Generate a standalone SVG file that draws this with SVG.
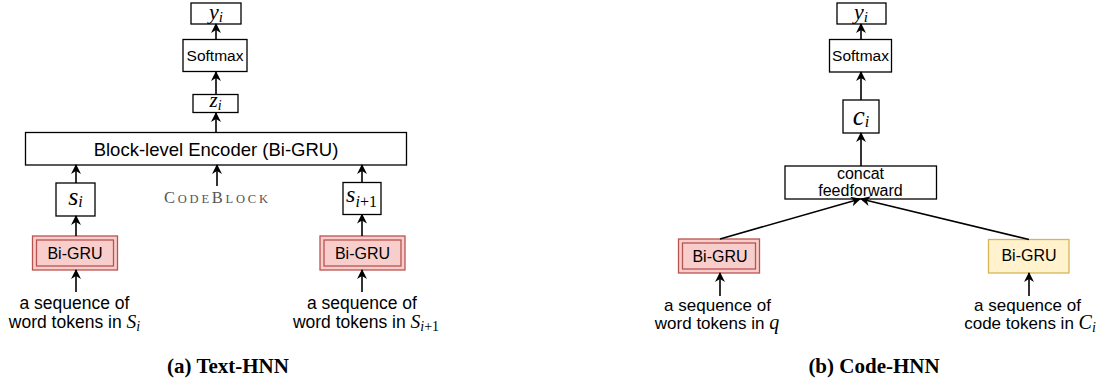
<svg xmlns="http://www.w3.org/2000/svg" width="1102" height="388" viewBox="0 0 1102 388">
<defs>
<style>
.box{fill:#fff;stroke:#000;stroke-width:1.3}
.red{fill:#f8cecc;stroke:#b85450;stroke-width:1.3}
.redin{fill:none;stroke:#b85450;stroke-width:1.3}
.yel{fill:#fff2cc;stroke:#d6b656;stroke-width:1.3}
.t{font-family:"Liberation Sans",Arial,sans-serif;fill:#000;text-anchor:middle}
.m{font-family:"Liberation Serif","Times New Roman",serif;font-style:italic;fill:#000;text-anchor:middle}
.up{font-style:normal}
.cap{font-family:"Liberation Serif","Times New Roman",serif;font-weight:bold;font-size:21px;fill:#000;text-anchor:middle}
.sc{font-family:"Liberation Serif","Times New Roman",serif;fill:#555;text-anchor:middle}
.c{fill:none;stroke:#000;stroke-width:1.6;marker-end:url(#ah)}
</style>
<marker id="ah" viewBox="0 0 10 10" refX="9" refY="5" markerWidth="10" markerHeight="10" markerUnits="userSpaceOnUse" orient="auto">
<path d="M0,0 L10,5 L0,10 L3,5 z" fill="#000"/>
</marker>
</defs>

<!-- Panel (a) -->
<g id="a-yi">
<rect class="box" x="191" y="3" width="50" height="21"/>
<text class="m" x="216" y="19" font-size="22">y<tspan font-size="15" dy="3">i</tspan></text>
</g>
<g id="a-softmax">
<rect class="box" x="183" y="39.5" width="64" height="32"/>
<text class="t" x="215" y="61" font-size="15.5">Softmax</text>
</g>
<g id="a-zi">
<rect class="box" x="193" y="94.5" width="45" height="18"/>
<text class="m" x="215.5" y="107" font-size="21">z<tspan font-size="14" dy="3">i</tspan></text>
</g>
<g id="a-encoder">
<rect class="box" x="25.5" y="132.5" width="381" height="32.5"/>
<text class="t" x="216" y="155.5" font-size="18.5">Block-level Encoder (Bi-GRU)</text>
</g>
<g id="a-si">
<rect class="box" x="56" y="183" width="39" height="33"/>
<text class="m" x="75.5" y="205" font-size="26">s<tspan font-size="16" dy="2">i</tspan></text>
</g>
<g id="a-codeblock">
<text class="sc" x="216" y="202.7" font-size="16.5" textLength="104" lengthAdjust="spacing">C<tspan font-size="12.5">ODE</tspan>B<tspan font-size="12.5">LOCK</tspan></text>
</g>
<g id="a-si1">
<rect class="box" x="343" y="182.5" width="38" height="32"/>
<text class="m" x="361.5" y="202" font-size="24">s<tspan font-size="16" dy="4.5">i</tspan><tspan class="up" font-size="16">+1</tspan></text>
</g>
<g id="a-bigru1">
<rect class="red" x="32.5" y="236" width="85" height="34"/>
<rect class="redin" x="36.5" y="240" width="77" height="26"/>
<text class="t" x="75" y="258.5" font-size="16">Bi-GRU</text>
</g>
<g id="a-bigru2">
<rect class="red" x="320" y="236" width="85" height="34"/>
<rect class="redin" x="324" y="240" width="77" height="26"/>
<text class="t" x="362.5" y="258.5" font-size="16">Bi-GRU</text>
</g>
<g id="a-in1">
<text class="t" x="74.5" y="309" font-size="17.5">a sequence of</text>
<text class="t" x="74.5" y="328" font-size="17.5">word tokens in <tspan class="m" font-size="19.5">S</tspan><tspan class="m" font-size="14" dy="3">i</tspan></text>
</g>
<g id="a-in2">
<text class="t" x="362" y="309" font-size="17.5">a sequence of</text>
<text class="t" x="366" y="328" font-size="17.5">word tokens in <tspan class="m" font-size="19.5">S</tspan><tspan class="m" font-size="14" dy="3">i</tspan><tspan font-family="Liberation Serif" font-size="14">+1</tspan></text>
</g>
<text class="cap" x="228" y="372.5">(a) Text-HNN</text>

<!-- Panel (b) -->
<g id="b-yi">
<rect class="box" x="837" y="3" width="49" height="21"/>
<text class="m" x="861" y="19" font-size="22">y<tspan font-size="15" dy="3">i</tspan></text>
</g>
<g id="b-softmax">
<rect class="box" x="829.5" y="39.5" width="62" height="32.5"/>
<text class="t" x="860.5" y="61" font-size="15.5">Softmax</text>
</g>
<g id="b-ci">
<rect class="box" x="843" y="100" width="36" height="33"/>
<text class="m" x="861" y="124.5" font-size="27">c<tspan font-size="16" dy="2">i</tspan></text>
</g>
<g id="b-concat">
<rect class="box" x="785" y="166" width="151.5" height="33"/>
<text class="t" x="860.5" y="178.5" font-size="16">concat</text>
<text class="t" x="860.5" y="196" font-size="16">feedforward</text>
</g>
<g id="b-bigru1">
<rect class="red" x="678.5" y="239" width="81" height="34"/>
<rect class="redin" x="682.5" y="243" width="73" height="26"/>
<text class="t" x="720" y="261.5" font-size="16">Bi-GRU</text>
</g>
<g id="b-bigru2">
<rect class="yel" x="988.5" y="239.5" width="80.5" height="33.5"/>
<text class="t" x="1029" y="261" font-size="16">Bi-GRU</text>
</g>
<g id="b-in1">
<text class="t" x="717.5" y="311" font-size="17">a sequence of</text>
<text class="t" x="717" y="329" font-size="17">word tokens in <tspan class="m" font-size="20">q</tspan></text>
</g>
<g id="b-in2">
<text class="t" x="1027.5" y="311" font-size="17">a sequence of</text>
<text class="t" x="1030" y="329" font-size="17">code tokens in <tspan class="m" font-size="20">C</tspan><tspan class="m" font-size="14" dy="3">i</tspan></text>
</g>
<text class="cap" x="874" y="372.5">(b) Code-HNN</text>

<!-- Connectors -->
<g id="connectors">
<line class="c" x1="216" y1="39.5" x2="216" y2="24"/>
<line class="c" x1="216" y1="94.5" x2="216" y2="72"/>
<line class="c" x1="216" y1="132.5" x2="216" y2="113"/>
<line class="c" x1="76" y1="183" x2="76" y2="165"/>
<line class="c" x1="217" y1="186" x2="217" y2="165"/>
<line class="c" x1="362" y1="182.5" x2="362" y2="165"/>
<line class="c" x1="76" y1="236" x2="76" y2="216"/>
<line class="c" x1="362" y1="236" x2="362" y2="214.5"/>
<line class="c" x1="76" y1="292" x2="76" y2="270"/>
<line class="c" x1="362" y1="292" x2="362" y2="270"/>

<line class="c" x1="861" y1="39.5" x2="861" y2="24"/>
<line class="c" x1="861" y1="100" x2="861" y2="72"/>
<line class="c" x1="861" y1="166" x2="861" y2="133"/>
<line class="c" x1="720" y1="239" x2="860" y2="199"/>
<line class="c" x1="1029" y1="239.5" x2="861" y2="199"/>
<line class="c" x1="720" y1="296" x2="720" y2="273"/>
<line class="c" x1="1029" y1="296" x2="1029" y2="273"/>
</g>
</svg>
